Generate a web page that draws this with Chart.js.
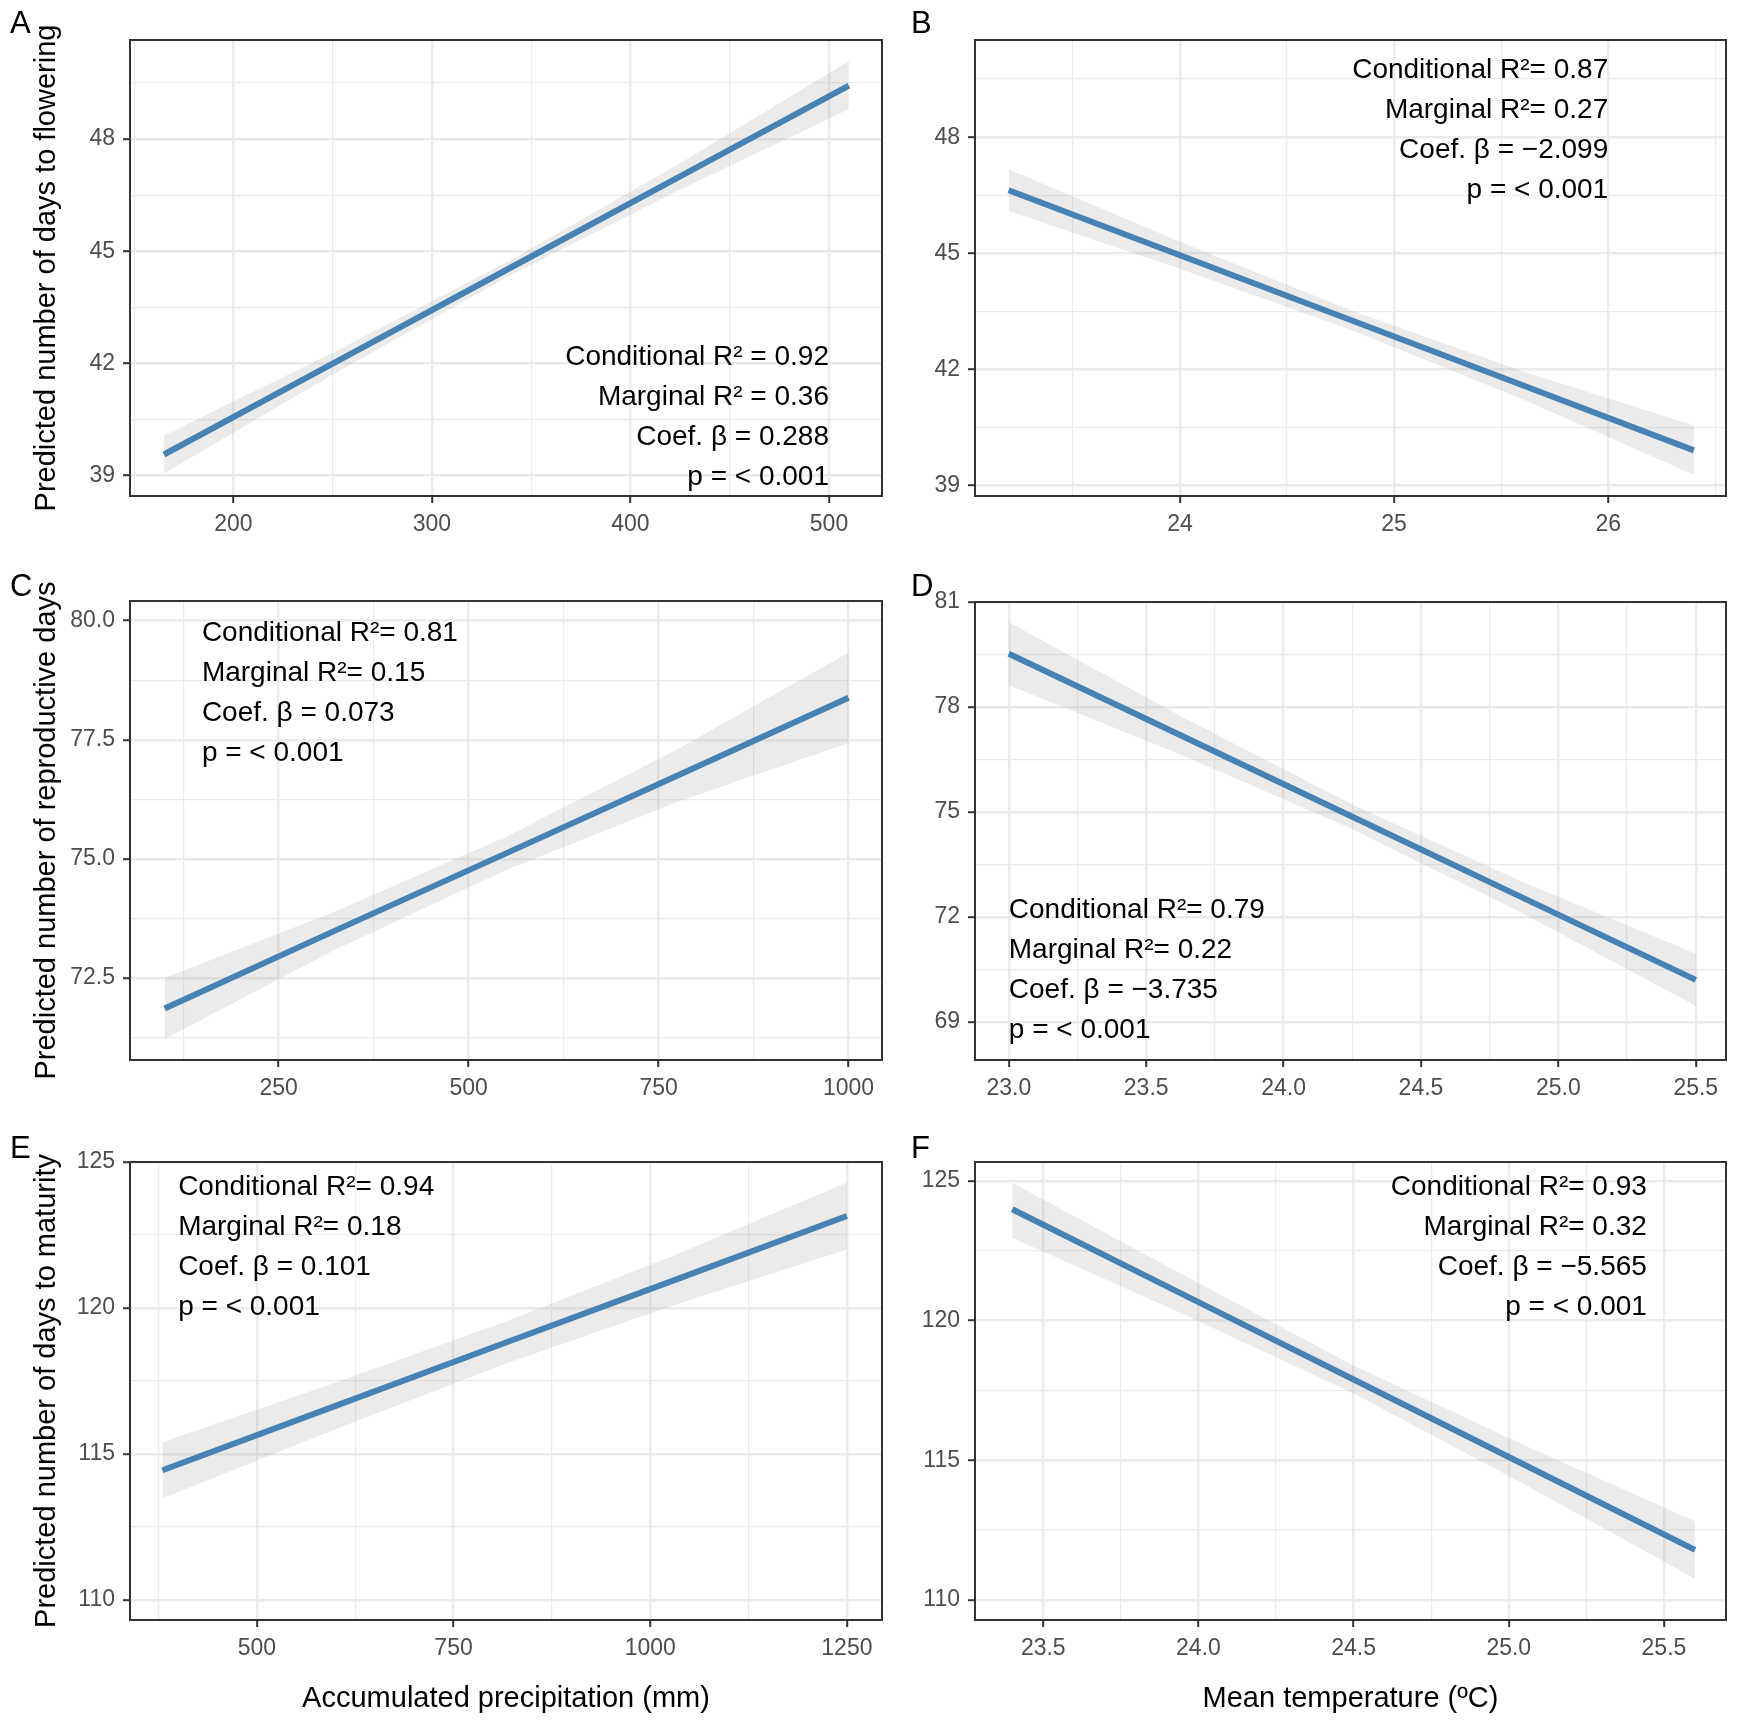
<!DOCTYPE html>
<html>
<head>
<meta charset="utf-8">
<script src="https://cdn.jsdelivr.net/npm/chart.js@4.4.1/dist/chart.umd.min.js"></script>
<style>
  body { margin: 0; background: #fff; width: 1737px; height: 1726px; position: relative; overflow: hidden; }
  canvas { position: absolute; }
</style>
</head>
<body>
<canvas id="chartA" width="900" height="560" style="left:0;top:0"></canvas>
<canvas id="chartB" width="857" height="560" style="left:880px;top:0"></canvas>
<canvas id="chartC" width="900" height="560" style="left:0;top:560px"></canvas>
<canvas id="chartD" width="857" height="560" style="left:880px;top:560px"></canvas>
<canvas id="chartE" width="900" height="606" style="left:0;top:1120px"></canvas>
<canvas id="chartF" width="857" height="606" style="left:880px;top:1120px"></canvas>
<script>
// A: days to flowering vs precipitation
const floweringPrecip = [165, 250, 340, 425, 510];
const floweringPrecipFit = [39.56, 41.99, 44.57, 47.0, 49.43];
const floweringPrecipLow = [39.05, 41.70, 44.37, 46.65, 48.80];
const floweringPrecipHigh = [40.07, 42.28, 44.77, 47.35, 50.09];

// B: days to flowering vs temperature
const floweringTemp = [23.2, 24.0, 24.8, 25.6, 26.4];
const floweringTempFit = [46.63, 44.95, 43.27, 41.59, 39.91];
const floweringTempLow = [46.09, 44.60, 43.02, 41.23, 39.28];
const floweringTempHigh = [47.17, 45.30, 43.52, 41.95, 40.55];

// C: reproductive days vs precipitation
const reproPrecip = [100, 325, 550, 775, 1000];
const reproPrecipFit = [71.86, 73.50, 75.12, 76.75, 78.38];
const reproPrecipLow = [71.22, 73.10, 74.77, 76.20, 77.43];
const reproPrecipHigh = [72.50, 73.90, 75.47, 77.30, 79.33];

// D: reproductive days vs temperature
const reproTemp = [23.0, 23.625, 24.25, 24.875, 25.5];
const reproTempFit = [79.52, 77.19, 74.86, 72.53, 70.20];
const reproTempLow = [78.62, 76.64, 74.51, 72.08, 69.45];
const reproTempHigh = [80.42, 77.74, 75.21, 72.98, 70.95];

// E: days to maturity vs precipitation
const maturityPrecip = [380, 597.5, 815, 1032.5, 1250];
const maturityPrecipFit = [114.44, 116.62, 118.80, 120.97, 123.15];
const maturityPrecipLow = [113.48, 115.82, 118.08, 120.12, 122.00];
const maturityPrecipHigh = [115.40, 117.42, 119.52, 121.82, 124.30];

// F: days to maturity vs temperature
const maturityTemp = [23.4, 23.95, 24.5, 25.05, 25.6];
const maturityTempFit = [123.99, 120.94, 117.89, 114.84, 111.79];
const maturityTempLow = [122.97, 120.24, 117.39, 114.14, 110.76];
const maturityTempHigh = [124.94, 121.64, 118.39, 115.54, 112.82];

// tick values and labels
const floweringPrecipTicks = [200, 300, 400, 500];
const floweringPrecipLabels = ['200', '300', '400', '500'];
const floweringTempTicks = [24, 25, 26];
const floweringTempLabels = ['24', '25', '26'];
const floweringDaysTicks = [39, 42, 45, 48];
const floweringDaysLabels = ['39', '42', '45', '48'];
const reproPrecipTicks = [250, 500, 750, 1000];
const reproPrecipLabels = ['250', '500', '750', '1000'];
const reproDaysTicks = [72.5, 75, 77.5, 80];
const reproDaysLabels = ['72.5', '75.0', '77.5', '80.0'];
const reproTempTicks = [23, 23.5, 24, 24.5, 25, 25.5];
const reproTempLabels = ['23.0', '23.5', '24.0', '24.5', '25.0', '25.5'];
const reproTempDaysTicks = [69, 72, 75, 78, 81];
const reproTempDaysLabels = ['69', '72', '75', '78', '81'];
const maturityPrecipTicks = [500, 750, 1000, 1250];
const maturityPrecipLabels = ['500', '750', '1000', '1250'];
const maturityTempTicks = [23.5, 24, 24.5, 25, 25.5];
const maturityTempLabels = ['23.5', '24.0', '24.5', '25.0', '25.5'];
const maturityDaysTicks = [110, 115, 120, 125];
const maturityDaysLabels = ['110', '115', '120', '125'];

// model statistics
const notesA = ['Conditional R² = 0.92', 'Marginal R² = 0.36', 'Coef. β = 0.288', 'p = < 0.001'];
const notesB = ['Conditional R²= 0.87', 'Marginal R²= 0.27', 'Coef. β = −2.099', 'p = < 0.001'];
const notesC = ['Conditional R²= 0.81', 'Marginal R²= 0.15', 'Coef. β = 0.073', 'p = < 0.001'];
const notesD = ['Conditional R²= 0.79', 'Marginal R²= 0.22', 'Coef. β = −3.735', 'p = < 0.001'];
const notesE = ['Conditional R²= 0.94', 'Marginal R²= 0.18', 'Coef. β = 0.101', 'p = < 0.001'];
const notesF = ['Conditional R²= 0.93', 'Marginal R²= 0.32', 'Coef. β = −5.565', 'p = < 0.001'];

const FONT = '"Liberation Sans", Arial, sans-serif';

// major ticks plus ggplot-style minor breaks halfway between them
function withMinor(major, min, max) {
  const step = major[1] - major[0];
  const out = major.map(v => ({ value: v }));
  [major[0] - step / 2, ...major.map(v => v + step / 2)].forEach(v => {
    if (v > min && v < max) out.push({ value: v, minor: true });
  });
  return out.sort((a, b) => a.value - b.value);
}

function deco(p) {
  return {
    id: 'deco' + p.letter,
    afterDatasetsDraw(chart) {
      const { ctx, chartArea: a, scales } = chart;
      ctx.save();
      ctx.strokeStyle = '#333333';
      ctx.lineWidth = 2;
      ctx.strokeRect(a.left, a.top, a.right - a.left, a.bottom - a.top);
      ctx.fillStyle = '#000';
      ctx.font = '28px ' + FONT;
      ctx.textAlign = p.noteAlign;
      ctx.textBaseline = 'middle';
      const x = scales.x.getPixelForValue(p.noteX);
      const y0 = scales.y.getPixelForValue(p.noteY);
      p.notes.forEach((t, i) => ctx.fillText(t, x, y0 + i * 40));
      ctx.textAlign = 'left';
      ctx.textBaseline = 'alphabetic';
      ctx.font = '31px ' + FONT;
      ctx.fillText(p.letter, p.letterX, p.letterY);
      ctx.restore();
    }
  };
}

function axis(p, dir) {
  const ticks = dir === 'x' ? p.xTicks : p.yTicks;
  const labels = dir === 'x' ? p.xLabels : p.yLabels;
  const min = dir === 'x' ? p.xMin : p.yMin;
  const max = dir === 'x' ? p.xMax : p.yMax;
  const title = dir === 'x' ? p.xTitle : p.yTitle;
  return {
    type: 'linear',
    min: min,
    max: max,
    bounds: 'data',
    afterBuildTicks: (s) => { s.ticks = withMinor(ticks, min, max); },
    afterFit: (s) => {
      if (dir === 'x') s.height = p.xAxisH; else s.width = p.yAxisW;
    },
    ticks: {
      autoSkip: false,
      maxRotation: 0,
      padding: 8,
      color: '#4D4D4D',
      font: { size: 23, family: FONT },
      callback: (v, i, t) => (t[i].minor ? '' : labels[ticks.indexOf(v)])
    },
    grid: {
      color: '#EBEBEB',
      lineWidth: (c) => (c.tick && c.tick.minor ? 1.2 : 2.4),
      tickLength: 7,
      tickWidth: 2,
      tickColor: (c) => (c.tick && c.tick.minor ? 'rgba(0,0,0,0)' : '#333333')
    },
    border: { display: false },
    title: title
      ? {
          display: true,
          text: title,
          color: '#000',
          font: { size: 29, family: FONT },
          padding: dir === 'x' ? { top: 0, bottom: 10 } : { top: 30, bottom: 0 }
        }
      : { display: false }
  };
}

function makePanel(p) {
  const pts = (ys) => p.x.map((x, i) => ({ x: x, y: ys[i] }));
  new Chart(document.getElementById(p.id), {
    type: 'line',
    data: {
      datasets: [
        { data: pts(p.fit), borderColor: '#4682B4', borderWidth: 6, pointRadius: 0, fill: false },
        { data: pts(p.low), borderColor: 'rgba(0,0,0,0)', borderWidth: 1, pointRadius: 0, fill: false },
        { data: pts(p.high), borderColor: 'rgba(0,0,0,0)', borderWidth: 1, pointRadius: 0, fill: '-1',
          backgroundColor: 'rgba(153,153,153,0.2)' }
      ]
    },
    options: {
      responsive: false,
      animation: false,
      layout: { padding: { top: p.padTop, right: p.padRight, left: 0, bottom: 0 } },
      plugins: { legend: { display: false }, tooltip: { enabled: false } },
      scales: { x: axis(p, 'x'), y: axis(p, 'y') }
    },
    plugins: [deco(p)]
  });
}

makePanel({
  id: 'chartA', letter: 'A', letterX: 10, letterY: 33,
  x: floweringPrecip, fit: floweringPrecipFit, low: floweringPrecipLow, high: floweringPrecipHigh,
  xTicks: floweringPrecipTicks, xLabels: floweringPrecipLabels, xMin: 147.9, xMax: 526.7,
  yTicks: floweringDaysTicks, yLabels: floweringDaysLabels, yMin: 38.45, yMax: 50.65,
  yTitle: 'Predicted number of days to flowering',
  notes: notesA, noteAlign: 'right', noteX: 500, noteY: 42.16,
  yAxisW: 130, xAxisH: 64, padTop: 40, padRight: 18
});
makePanel({
  id: 'chartB', letter: 'B', letterX: 31, letterY: 33,
  x: floweringTemp, fit: floweringTempFit, low: floweringTempLow, high: floweringTempHigh,
  xTicks: floweringTempTicks, xLabels: floweringTempLabels, xMin: 23.043, xMax: 26.55,
  yTicks: floweringDaysTicks, yLabels: floweringDaysLabels, yMin: 38.73, yMax: 50.51,
  notes: notesB, noteAlign: 'right', noteX: 26.0, noteY: 49.72,
  yAxisW: 95, xAxisH: 64, padTop: 40, padRight: 11
});
makePanel({
  id: 'chartC', letter: 'C', letterX: 10, letterY: 36,
  x: reproPrecip, fit: reproPrecipFit, low: reproPrecipLow, high: reproPrecipHigh,
  xTicks: reproPrecipTicks, xLabels: reproPrecipLabels, xMin: 54.4, xMax: 1044,
  yTicks: reproDaysTicks, yLabels: reproDaysLabels, yMin: 70.78, yMax: 80.41,
  yTitle: 'Predicted number of reproductive days',
  notes: notesC, noteAlign: 'left', noteX: 149, noteY: 79.74,
  yAxisW: 130, xAxisH: 60, padTop: 41, padRight: 18
});
makePanel({
  id: 'chartD', letter: 'D', letterX: 31, letterY: 36,
  x: reproTemp, fit: reproTempFit, low: reproTempLow, high: reproTempHigh,
  xTicks: reproTempTicks, xLabels: reproTempLabels, xMin: 22.877, xMax: 25.61,
  yTicks: reproTempDaysTicks, yLabels: reproTempDaysLabels, yMin: 67.91, yMax: 81.0,
  notes: notesD, noteAlign: 'left', noteX: 23.0, noteY: 72.2,
  yAxisW: 95, xAxisH: 60, padTop: 42, padRight: 11
});
makePanel({
  id: 'chartE', letter: 'E', letterX: 10, letterY: 38,
  x: maturityPrecip, fit: maturityPrecipFit, low: maturityPrecipLow, high: maturityPrecipHigh,
  xTicks: maturityPrecipTicks, xLabels: maturityPrecipLabels, xMin: 338.8, xMax: 1294.6,
  yTicks: maturityDaysTicks, yLabels: maturityDaysLabels, yMin: 109.31, yMax: 125.0,
  yTitle: 'Predicted number of days to maturity',
  xTitle: 'Accumulated precipitation (mm)',
  notes: notesE, noteAlign: 'left', noteX: 400, noteY: 124.13,
  yAxisW: 130, xAxisH: 106, padTop: 42, padRight: 18
});
makePanel({
  id: 'chartF', letter: 'F', letterX: 31, letterY: 38,
  x: maturityTemp, fit: maturityTempFit, low: maturityTempLow, high: maturityTempHigh,
  xTicks: maturityTempTicks, xLabels: maturityTempLabels, xMin: 23.28, xMax: 25.70,
  yTicks: maturityDaysTicks, yLabels: maturityDaysLabels, yMin: 109.28, yMax: 125.68,
  xTitle: 'Mean temperature (ºC)',
  notes: notesF, noteAlign: 'right', noteX: 25.445, noteY: 124.77,
  yAxisW: 95, xAxisH: 106, padTop: 42, padRight: 11
});
</script>
</body>
</html>
